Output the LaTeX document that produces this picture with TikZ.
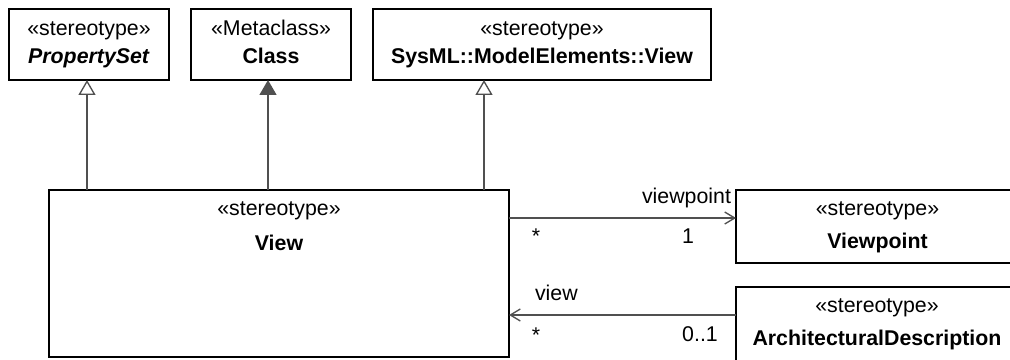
\documentclass[tikz,border=0pt]{standalone}
\usepackage{fontspec}
\setmainfont{Liberation Sans}
\usetikzlibrary{arrows.meta}
\definecolor{conn}{HTML}{505050}
\tikzset{
  box/.style={draw=black, line width=1.5pt, fill=white, inner sep=0pt, outer sep=0pt},
  txt/.style={anchor=base, inner sep=0pt, outer sep=0pt, font=\fontsize{16pt}{19pt}\selectfont},
  gen/.style={draw=conn, line width=1pt, -{Triangle[open, length=11.25pt, width=12.75pt, fill=white]}},
  genf/.style={draw=conn, line width=1pt, -{Triangle[length=11.25pt, width=12.75pt, fill=conn]}},
  assoc/.style={draw=conn, line width=1pt, -{Straight Barb[length=7.5pt, width=9pt]}}
}
\begin{document}
\begin{tikzpicture}[x=0.75pt, y=-0.75pt]
\useasboundingbox (0,0) rectangle (1010,360);
\clip (0,0) rectangle (1010,360);
\fill[white] (0,0) rectangle (1010,360);
% boxes
\node[box, minimum width=120pt, minimum height=53.25pt] (ps) at (89,44.5) {};
\node[box, minimum width=120pt, minimum height=53.25pt] (cls) at (271,44.5) {};
\node[box, minimum width=253.5pt, minimum height=53.25pt] (sysv) at (542,44.5) {};
\node[box, minimum width=345pt, minimum height=125.25pt] (view) at (279,273.5) {};
\node[box, minimum width=213pt, minimum height=54.75pt] (vp) at (878,226.5) {};
\node[box, minimum width=213pt, minimum height=62.25pt] (ad) at (878,328.5) {};
% box texts
\node[txt] (pst) at (89,36) {«stereotype»};
\node[txt] (psn) at (89,64) {\textbf{\textit{PropertySet}}};
\node[txt] (clst) at (271,36) {«Metaclass»};
\node[txt] (clsn) at (271,64) {\textbf{Class}};
\node[txt] (sysvt) at (542,36) {«stereotype»};
\node[txt] (sysvn) at (542,64) {\textbf{SysML::ModelElements::View}};
\node[txt] (viewt) at (279,215) {«stereotype»};
\node[txt] (viewn) at (279,250) {\textbf{View}};
\node[txt] (vpt) at (877.5,215) {«stereotype»};
\node[txt] (vpn) at (877.5,248) {\textbf{Viewpoint}};
\node[txt] (adt) at (877,312) {«stereotype»};
\node[txt] (adn) at (877,345) {\textbf{ArchitecturalDescription}};
% generalizations
\draw[gen] (87,0 |- view.north) -- (87,0 |- ps.south);
\draw[genf] (268,0 |- view.north) -- (268,0 |- cls.south);
\draw[gen] (484,0 |- view.north) -- (484,0 |- sysv.south);
% associations
\draw[assoc] (view.east |- 0,218) -- (vp.west |- 0,218);
\draw[assoc] (ad.west |- 0,315) -- (view.east |- 0,315);
% association labels
\node[txt, anchor=base east] (lvp) at (731,203) {viewpoint};
\node[txt] (m1) at (536,243) {*};
\node[txt] (m2) at (688,243) {1};
\node[txt, anchor=base west] (lv) at (535,300) {view};
\node[txt] (m3) at (536,342) {*};
\node[txt] (m4) at (700,341) {0..1};
\end{tikzpicture}
\end{document}
